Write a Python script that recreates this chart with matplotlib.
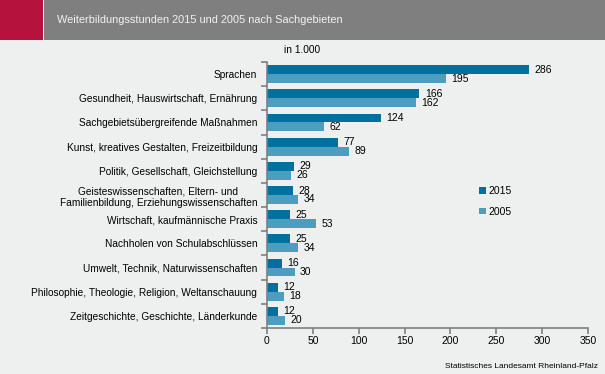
import matplotlib
matplotlib.use("Agg")
import matplotlib.pyplot as plt
from matplotlib.patches import Rectangle
import numpy as np

plt.rcParams['font.family'] = ['Liberation Sans', 'DejaVu Sans']

categories = [
    "Sprachen",
    "Gesundheit, Hauswirtschaft, Ernährung",
    "Sachgebietsübergreifende Maßnahmen",
    "Kunst, kreatives Gestalten, Freizeitbildung",
    "Politik, Gesellschaft, Gleichstellung",
    "Geisteswissenschaften, Eltern- und\nFamilienbildung, Erziehungswissenschaften",
    "Wirtschaft, kaufmännische Praxis",
    "Nachholen von Schulabschlüssen",
    "Umwelt, Technik, Naturwissenschaften",
    "Philosophie, Theologie, Religion, Weltanschauung",
    "Zeitgeschichte, Geschichte, Länderkunde",
]
v2015 = [286, 166, 124, 77, 29, 28, 25, 25, 16, 12, 12]
v2005 = [195, 162, 62, 89, 26, 34, 53, 34, 30, 18, 20]
xticks = [0, 50, 100, 150, 200, 250, 300, 350]

bg = '#EEF0EF'
c2015 = '#0070A0'
c2005 = '#4D9DC0'
axis_col = '#808080'

W, H = 605, 374
fig = plt.figure(figsize=(W/100, H/100), dpi=100, facecolor=bg)

# header
fig.patches.append(Rectangle((0, 1-40/H), 43/W, 40/H, transform=fig.transFigure,
                             facecolor='#B5123E', edgecolor='none', zorder=0))
fig.patches.append(Rectangle((0, 1-40/H), 44/W, 40/H, transform=fig.transFigure,
                             facecolor='white', edgecolor='none', zorder=-1))
fig.patches.append(Rectangle((44/W, 1-40/H), 1-44/W, 40/H, transform=fig.transFigure,
                             facecolor='#7F7F7F', edgecolor='none', zorder=0))
fig.text(57/W, 1-20/H, "Weiterbildungsstunden 2015 und 2005 nach Sachgebieten",
         color='#F2F2F2', fontsize=7.9, va='center', ha='left')
fig.text(284/W, 1-50/H, "in 1.000", fontsize=7.3, va='center', ha='left', color='black')
fig.text(598/W, 1-366/H, "Statistisches Landesamt Rheinland-Pfalz", fontsize=6.0,
         va='center', ha='right', color='black')

ax = fig.add_axes([267/W, 46/H, 321/W, 266/H])
ax.set_facecolor(bg)
n = len(categories)
y = np.arange(n)
h = 0.37
b1 = ax.barh(y - h/2, v2015, height=h, color=c2015, label='2015')
b2 = ax.barh(y + h/2, v2005, height=h, color=c2005, label='2005')
for bars, vals in ((b1, v2015), (b2, v2005)):
    for yy, v in zip(bars, vals):
        ax.annotate(str(v), (v, yy.get_y() + yy.get_height()/2), xytext=(4, 0),
                    textcoords='offset points', va='center', ha='left', fontsize=7.5)

ax.set_ylim(n - 0.5, -0.5)
ax.set_xlim(0, 350)
ax.set_xticks(xticks)
ax.set_xticklabels([str(t) for t in xticks], fontsize=7.5)
ax.set_yticks(y)
ax.set_yticklabels(categories, fontsize=7.3, multialignment='center')
ax.set_yticks(np.arange(-0.5, n, 1), minor=True)
ax.tick_params(axis='y', which='major', length=0, pad=7)
ax.tick_params(axis='y', which='minor', length=4, color=axis_col, width=1.2)
ax.tick_params(axis='x', length=4, color=axis_col, width=1.2, pad=2)
for s in ['top', 'right']:
    ax.spines[s].set_visible(False)
for s in ['left', 'bottom']:
    ax.spines[s].set_color(axis_col)
    ax.spines[s].set_linewidth(1.2)

leg = ax.legend(loc='upper left', bbox_to_anchor=(470/W, 1-177/H), bbox_transform=fig.transFigure,
                frameon=False, fontsize=7.5, handlelength=0.6, handleheight=0.6,
                handletextpad=0.3, labelspacing=1.0)

fig.savefig('out.png', dpi=100, facecolor=bg)
